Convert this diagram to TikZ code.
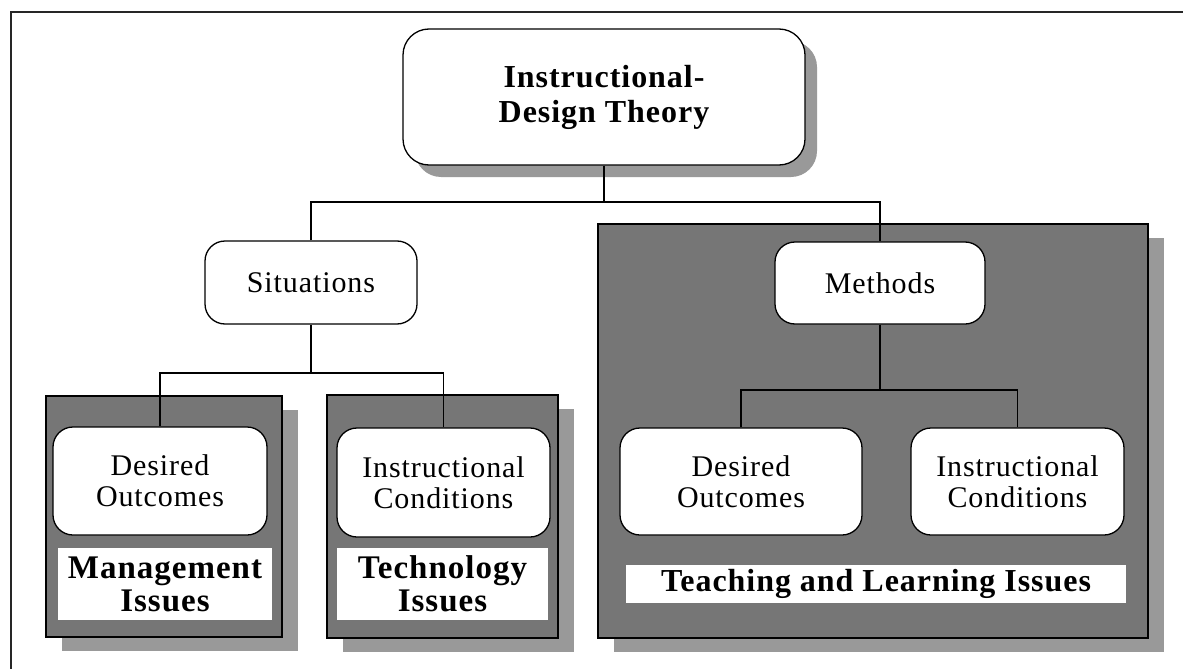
\documentclass[tikz,border=0pt]{standalone}
\usepackage{fontspec}
\setmainfont{Liberation Serif}
\usetikzlibrary{shadows}
\definecolor{panelgray}{RGB}{118,118,118}
\definecolor{shadowgray}{RGB}{153,153,153}
\newcommand{\regtext}{\fontsize{30}{31}\selectfont\addfontfeatures{LetterSpace=3}}
\newcommand{\lbltext}{\fontsize{33}{33}\selectfont\bfseries\addfontfeatures{LetterSpace=3}}
\newcommand{\ttltext}{\fontsize{32}{35}\selectfont\bfseries\addfontfeatures{LetterSpace=3}}
\begin{document}
\begin{tikzpicture}[x=1pt,y=-1pt,
  rbox/.style={draw=black, line width=1.3pt, fill=white, rounded corners=20pt,
    align=center, inner sep=0pt, font=\regtext},
  panel/.style={draw=black, line width=1.6pt, fill=panelgray, inner sep=0pt,
    drop shadow={shadow xshift=16pt, shadow yshift=-14pt, fill=shadowgray, opacity=1}},
  lbl/.style={fill=white, inner sep=0pt, align=center, font=\lbltext},
  conn/.style={draw=black, line width=1.5pt},
  frame/.style={draw=black!85, line width=2.5pt}
]
\useasboundingbox (0,0) rectangle (1183,669);
\draw[frame] (11,680) -- (11,12) -- (1190,12);

% top node
\node[rbox, font=\ttltext, rounded corners=26pt, minimum width=402pt, minimum height=136pt,
  drop shadow={shadow xshift=12pt, shadow yshift=-12pt, fill=shadowgray, opacity=1}]
  (top) at (604,97) {Instructional-\\Design Theory};

% panels
\node[panel, minimum width=236pt, minimum height=241pt] (mpanel) at (164,516.5) {};
\node[panel, minimum width=231pt, minimum height=243pt] (tpanel) at (442.5,516.5) {};
\node[panel, minimum width=550pt, minimum height=414pt] (bpanel) at (873,431) {};

% second level
\node[rbox, minimum width=212pt, minimum height=83pt] (sit) at (311,282.5) {Situations};
\node[rbox, minimum width=210pt, minimum height=82pt] (meth) at (880,283) {Methods};

% third level
\node[rbox, minimum width=214pt, minimum height=108pt] (do1) at (160,481) {Desired\\Outcomes};
\node[rbox, minimum width=213pt, minimum height=109pt] (ic1) at (443.5,482.5) {Instructional\\Conditions};
\node[rbox, minimum width=242pt, minimum height=107pt] (do2) at (741,481.5) {Desired\\Outcomes};
\node[rbox, minimum width=213pt, minimum height=107pt] (ic2) at (1017.5,481.5) {Instructional\\Conditions};

% labels
\node[lbl, minimum width=214pt, minimum height=72pt] (mlbl) at (165,584) {Management\\Issues};
\node[lbl, minimum width=211pt, minimum height=72pt] (tlbl) at (442.5,584) {Technology\\Issues};
\node[lbl, font=\fontsize{32}{33}\selectfont\bfseries\addfontfeatures{LetterSpace=3},
  minimum width=500pt, minimum height=38pt] (blbl) at (876,584) {Teaching and Learning Issues};

% junction coordinates
\coordinate (j1) at (604,202);
\coordinate (j2) at (311,373);
\coordinate (j3) at (880,390);

% connectors
\draw[conn] (top.south) -- (j1);
\draw[conn] (sit.north) |- (j1) -| (meth.north);
\draw[conn] (sit.south) -- (j2);
\draw[conn] (do1.north) |- (j2) -| (ic1.north);
\draw[conn] (meth.south) -- (j3);
\draw[conn] (do2.north) |- (j3) -| (ic2.north);
\end{tikzpicture}
\end{document}
